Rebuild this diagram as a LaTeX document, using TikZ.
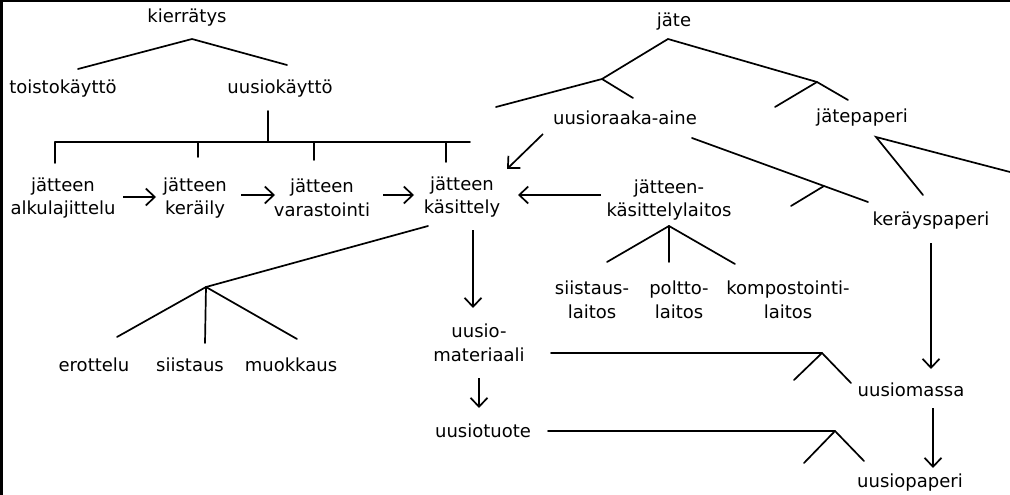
\documentclass[tikz,border=0pt]{standalone}
\usepackage{fontspec}
\setmainfont{DejaVu Sans}
\usetikzlibrary{arrows.meta}
\tikzset{
  lbl/.style={font=\fontsize{18}{23.5}\selectfont, inner sep=0pt, align=center},
  ln/.style={line width=1.7pt, line cap=round},
  arr/.style={line width=1.7pt, -{Straight Barb[length=9pt,width=17pt,line width=1.7pt]}},
  frame/.style={line width=2.4pt}
}
\begin{document}
\begin{tikzpicture}[x=1pt,y=-1pt]
\useasboundingbox (0,0) rectangle (1010,495);
% frame (left and top edges)
\coordinate (fbl) at (1.5,495);
\coordinate (ftl) at (1.5,1.2);
\coordinate (ftr) at (1010,1.2);
\draw[frame] (fbl) -- (ftl) -- (ftr);

% ---------- text nodes ----------
\node[lbl] (kier) at (187,18) {kierrätys};
\node[lbl] (tois) at (63,89) {toistokäyttö};
\node[lbl] (uusk) at (280,89) {uusiokäyttö};
\node[lbl] (jate) at (674,22) {jäte};
\node[lbl] (ura) at (625,118) {uusioraaka-aine};
\node[lbl] (jpap) at (862,118) {jätepaperi};
\node[lbl] (alk) at (63,198) {jätteen\\alkulajittelu};
\node[lbl] (ker) at (195,198) {jätteen\\keräily};
\node[lbl] (var) at (322,198) {jätteen\\varastointi};
\node[lbl] (kas) at (462,197) {jätteen\\käsittely};
\node[lbl] (lait) at (669,200) {jätteen-\\käsittelylaitos};
\node[lbl] (krp) at (931,221) {keräyspaperi};
\node[lbl] (sii) at (592,300) {siistaus-\\laitos};
\node[lbl] (pol) at (679,300) {poltto-\\laitos};
\node[lbl] (kom) at (788,300) {kompostointi-\\laitos};
\node[lbl] (ero) at (94,365) {erottelu};
\node[lbl] (sis) at (190,365) {siistaus};
\node[lbl] (muo) at (291,365) {muokkaus};
\node[lbl] (mat) at (479,343) {uusio-\\materiaali};
\node[lbl] (tuo) at (483,431) {uusiotuote};
\node[lbl] (mas) at (911,390) {uusiomassa};
\node[lbl] (upa) at (910,483) {uusiopaperi};

% ---------- coordinates ----------
% kierrätys tree
\coordinate (k0) at (192,39);
\coordinate (k1) at (78,69);
\coordinate (k2) at (287,65);
% uusiokäyttö bar
\coordinate (u0) at (268,111);
\coordinate (u1) at (268,142);
\coordinate (bl) at (55,142);
\coordinate (br) at (470,142);
\coordinate (t1) at (55,163);
\coordinate (t2a) at (198,142);
\coordinate (t2) at (198,157);
\coordinate (t3a) at (314,142);
\coordinate (t3) at (314,160);
\coordinate (t4a) at (446,142);
\coordinate (t4) at (446,162);
% horizontal arrows
\coordinate (a1s) at (123,197); \coordinate (a1e) at (156,197);
\coordinate (a2s) at (241,195); \coordinate (a2e) at (275,195);
\coordinate (a3s) at (383,195); \coordinate (a3e) at (414,195);
\coordinate (a4s) at (601,195); \coordinate (a4e) at (518,195);
\coordinate (a5s) at (543,134); \coordinate (a5e) at (507,169);
% vertical arrows
\coordinate (v1s) at (473,230); \coordinate (v1e) at (473,308);
\coordinate (v2s) at (479,378); \coordinate (v2e) at (479,408);
\coordinate (v3s) at (931,243); \coordinate (v3e) at (931,369);
\coordinate (v4s) at (933,408); \coordinate (v4e) at (933,468);
% jäte tree
\coordinate (j0) at (668,39);
\coordinate (jl) at (602,79);
\coordinate (jl1) at (496,107);
\coordinate (jl2) at (633,98);
\coordinate (jr) at (817,82);
\coordinate (jr1) at (775,107);
\coordinate (jr2) at (848,100);
% uusioraaka-aine -> keräyspaperi
\coordinate (r0) at (692,138);
\coordinate (rj) at (824,186);
\coordinate (r1) at (868,202);
\coordinate (r2) at (791,206);
% jätepaperi
\coordinate (p0) at (876,137);
\coordinate (p1) at (923,195);
\coordinate (p2) at (1010,172);
% käsittely -> erottelu etc.
\coordinate (e0) at (428,226);
\coordinate (ej) at (206,287);
\coordinate (e1) at (117,337);
\coordinate (e2) at (205,343);
\coordinate (e3) at (297,339);
% laitos fan
\coordinate (l0) at (669,226);
\coordinate (l1) at (607,262);
\coordinate (l2) at (669,262);
\coordinate (l3) at (735,264);
% materiaali -> uusiomassa
\coordinate (m0) at (551,353);
\coordinate (mj) at (822,353);
\coordinate (m1) at (794,380);
\coordinate (m2) at (851,383);
% uusiotuote -> uusiopaperi
\coordinate (q0) at (548,431);
\coordinate (qj) at (835,431);
\coordinate (q1) at (804,463);
\coordinate (q2) at (864,461);

% ---------- connectors ----------
\draw[ln] (k1) -- (k0) -- (k2);
\draw[ln] (u0) -- (u1);
\draw[ln] (bl) -- (br);
\draw[ln] (bl) -- (t1);
\draw[ln] (t2a) -- (t2);
\draw[ln] (t3a) -- (t3);
\draw[ln] (t4a) -- (t4);
\draw[arr] (a1s) -- (a1e);
\draw[arr] (a2s) -- (a2e);
\draw[arr] (a3s) -- (a3e);
\draw[arr] (a4s) -- (a4e);
\draw[arr] (a5s) -- (a5e);
\draw[arr] (v1s) -- (v1e);
\draw[arr] (v2s) -- (v2e);
\draw[arr] (v3s) -- (v3e);
\draw[arr] (v4s) -- (v4e);
\draw[ln] (jl1) -- (jl) -- (j0) -- (jr) -- (jr2);
\draw[ln] (jl) -- (jl2);
\draw[ln] (jr) -- (jr1);
\draw[ln] (r0) -- (rj) -- (r1);
\draw[ln] (rj) -- (r2);
\draw[ln] (p1) -- (p0) -- (p2);
\draw[ln] (e0) -- (ej);
\draw[ln] (ej) -- (e1);
\draw[ln] (ej) -- (e2);
\draw[ln] (ej) -- (e3);
\draw[ln] (l1) -- (l0) -- (l3);
\draw[ln] (l0) -- (l2);
\draw[ln] (m0) -- (mj) -- (m2);
\draw[ln] (mj) -- (m1);
\draw[ln] (q0) -- (qj) -- (q2);
\draw[ln] (qj) -- (q1);
\end{tikzpicture}
\end{document}
